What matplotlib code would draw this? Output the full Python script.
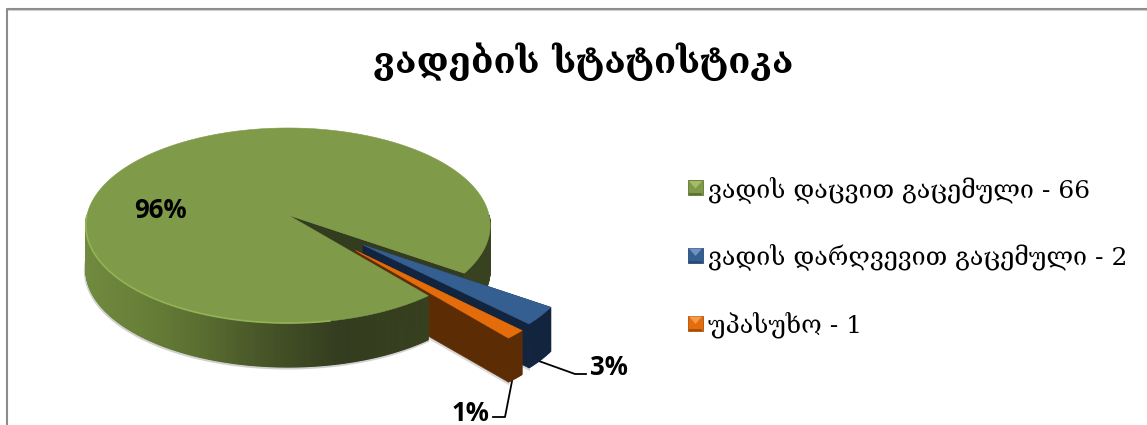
import matplotlib
matplotlib.use("Agg")
import matplotlib.pyplot as plt
from matplotlib.patches import Polygon
import numpy as np

title = "ვადების სტატისტიკა"
names = ["ვადის დაცვით გაცემული", "ვადის დარღვევით გაცემული", "უპასუხო"]
values = [66, 2, 1]
explode = [0, 0.47, 0.48]
top_colors = ["#7f9a48", "#355f91", "#e46c0a"]
side_colors = ["#333c1e", "#13243f", "#5c2d05"]
light_colors = ["#a3bd67", "#6f92bf", "#f29b4f"]
dark_colors = ["#5f7434", "#274a76", "#a94f06"]

# pie placement in pixels, with a little perspective
cx, cy = 288, 215
R, a, k = 201, 96.4, -0.1077
depth = 44
start = -50.2


def proj(u, v, z=0):
    d = 1 - k * np.asarray(v)
    return cx + R * np.asarray(u) / d, cy - a * np.asarray(v) / d + z


def poly(xs, ys, color, z, lw=0.4):
    ax.add_patch(Polygon(np.column_stack([xs, ys]), closed=True, fc=color, ec=color, lw=lw, zorder=z))


def wedge_top(t0, t1, off):
    t = np.radians(np.linspace(t0, t1, 200))
    u = np.r_[off[0], off[0] + np.cos(t)]
    v = np.r_[off[1], off[1] + np.sin(t)]
    return proj(u, v)


def wall(u0, v0, u1, v1, color, z):
    x0, y0 = proj(u0, v0)
    x1, y1 = proj(u1, v1)
    poly([x0, x1, x1, x0], [y0, y1, y1 + depth, y0 + depth], color, z)


def green_shade(x):
    stops = [85, 140, 200, 260, 340, 500]
    r = np.interp(x, stops, [0x70, 0x68, 0x5a, 0x48, 0x33, 0x3a])
    g = np.interp(x, stops, [0x8a, 0x80, 0x6e, 0x56, 0x3c, 0x43])
    b = np.interp(x, stops, [0x3e, 0x38, 0x30, 0x28, 0x1e, 0x20])
    return (r / 255, g / 255, b / 255)


def arc_strips(t, color_fn, z, off=(0, 0)):
    r = np.radians(t)
    x, y = proj(off[0] + np.cos(r), off[1] + np.sin(r))
    for i in range(len(t) - 1):
        poly([x[i], x[i + 1], x[i + 1], x[i]], [y[i], y[i + 1], y[i + 1] + depth, y[i] + depth],
             color_fn(x[i]), z, lw=0.8)


fig = plt.figure(figsize=(11.47, 4.25), dpi=100)
ax = fig.add_axes([0, 0, 1, 1])
ax.set_xlim(0, 1147)
ax.set_ylim(425, 0)
ax.axis("off")

# chart area border
ax.plot([7, 7, 1147], [425, 9, 9], color="#8c8c8c", lw=1.5, zorder=1)
ax.plot([8, 1147], [10.3, 10.3], color="#d0d0d0", lw=0.8, zorder=1)

spans = np.array(values) / sum(values) * 360
ends = start - np.cumsum(spans)
starts = np.r_[start, ends[:-1]]
mids = np.radians((starts + ends) / 2)
offs = [(e * np.cos(m), e * np.sin(m)) for e, m in zip(explode, mids)]

# green slice, back wall and right hand part of the side
t_end = np.radians(ends[0])
wall(0, 0, np.cos(t_end), np.sin(t_end), side_colors[0], 2)
ang = np.linspace(starts[0], ends[0], 700)
ang_mod = ang % 360
right = ang[(ang_mod > 270) & (ang <= -360)]
left = ang[(ang_mod > 180) & (ang > -360) & (ang > -181)]
arc_strips(right, green_shade, 3)

# soft shadow under the disc
sx, sy = proj(np.cos(np.radians(left)), np.sin(np.radians(left)))
ax.plot(sx - 0.5, sy + depth + 1, color="#bdbdbd", lw=2.2, alpha=0.7, zorder=2)

# exploded slices: walls first
for i in (1, 2):
    off = offs[i]
    t0, t1 = np.radians(starts[i]), np.radians(ends[i])
    sh = side_colors[i]
    sx, sy = proj(off[0] + np.cos(t1), off[1] + np.sin(t1))
    ox, oy = proj(off[0], off[1])
    ax.plot([ox, sx], [oy + depth + 1.5, sy + depth + 1.5], color="#c8c8c8", lw=1.6, alpha=0.7, zorder=3 + i)
    wall(off[0], off[1], off[0] + np.cos(t1), off[1] + np.sin(t1), sh, 4 + i)
    wall(off[0], off[1], off[0] + np.cos(t0), off[1] + np.sin(t0), sh, 4 + i)
    ts = np.linspace(starts[i], ends[i], 12)
    arc_strips(ts, lambda x, c=sh: c, 4 + i, off)

# green front side and top hide the inner part of those walls
arc_strips(left, green_shade, 8)
x, y = wedge_top(starts[0], ends[0], offs[0])
poly(x, y, top_colors[0], 9)
rx, ry = proj(np.cos(np.radians(left)), np.sin(np.radians(left)))
ax.plot(rx[rx < 330], ry[rx < 330], color="#93b356", lw=1.2, zorder=10)

# tops of the exploded slices
for i in (1, 2):
    x, y = wedge_top(starts[i], ends[i], offs[i])
    poly(x, y, top_colors[i], 11 + i)

# percent labels and leader lines
pct = [f"{round(100 * v / sum(values))}%" for v in values]
label_font = dict(family="Open Sans", fontweight="bold", fontsize=18.5, ha="center", va="center", color="black", zorder=20)
ax.text(160, 210, pct[0], **label_font)
ax.text(609, 367.5, pct[1], **label_font)
ax.text(470, 413.5, pct[2], **label_font)
ax.plot([536, 575, 586], [360, 374, 374], color="black", lw=1.3, zorder=4)
ax.plot([513, 505, 493], [376, 417, 417], color="black", lw=1.3, zorder=4)

# title
ax.text(583, 62, title, family=["DejaVu Serif", "DejaVu Sans"], fontweight="bold", fontsize=26, ha="center", va="center", color="black", zorder=20)

# legend
legend_y = [187.5, 255, 323]
for name, val, ly, c, lc, dc in zip(names, values, legend_y, top_colors, light_colors, dark_colors):
    l, r_, t_, b_ = 688, 703, ly - 7.5, ly + 7.5
    ax.add_patch(Polygon([[l, t_], [r_, t_], [r_, b_], [l, b_]], fc=c, ec=dc, lw=0.6, zorder=15))
    ax.add_patch(Polygon([[l + 1, t_ + 1], [r_ - 1, t_ + 1], [(l + r_) / 2, ly + 1]], fc=lc, ec="none", zorder=16))
    ax.add_patch(Polygon([[l + 1, b_ - 2], [r_ - 1, b_ - 2], [r_ - 1, b_], [l + 1, b_]], fc=dc, ec="none", zorder=16))
    ax.text(708, ly + 2, f"{name} - {val}", family=["DejaVu Serif", "DejaVu Sans"], fontsize=18, ha="left", va="center", color="black", zorder=20)

fig.savefig("out.png", dpi=100)
